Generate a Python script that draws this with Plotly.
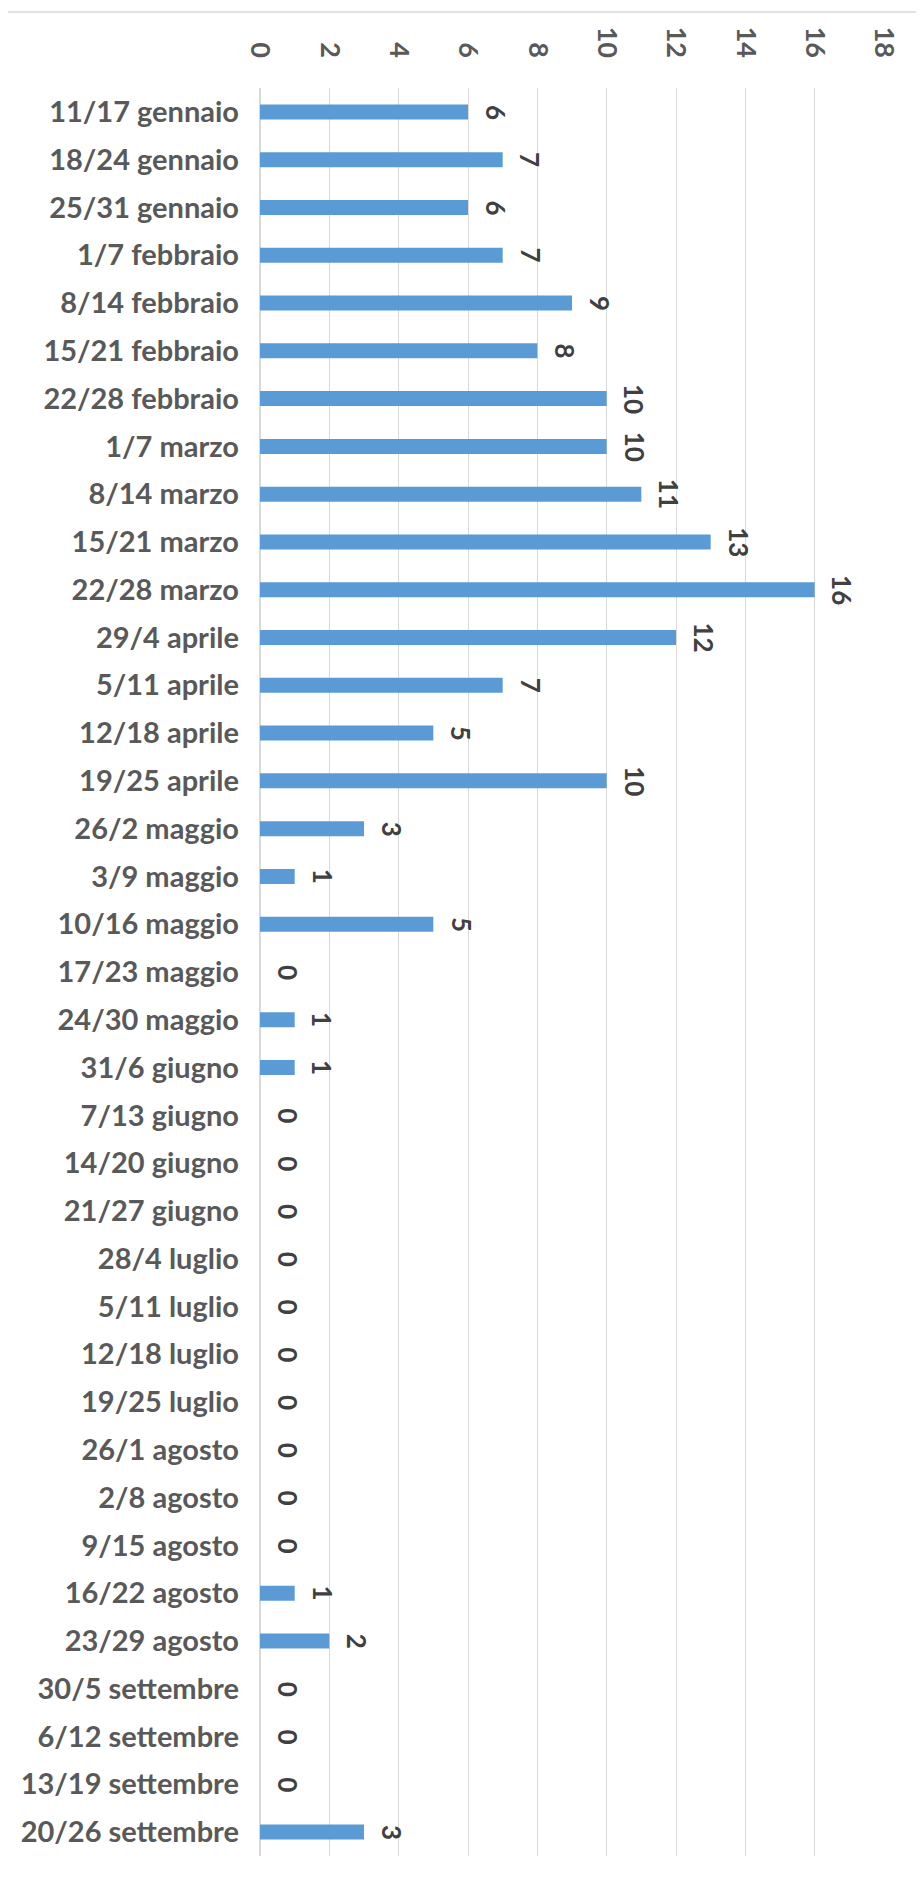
import plotly.graph_objects as go

categories = [
    "11/17 gennaio", "18/24 gennaio", "25/31 gennaio", "1/7 febbraio", "8/14 febbraio",
    "15/21 febbraio", "22/28 febbraio", "1/7 marzo", "8/14 marzo", "15/21 marzo",
    "22/28 marzo", "29/4 aprile", "5/11 aprile", "12/18 aprile", "19/25 aprile",
    "26/2 maggio", "3/9 maggio", "10/16 maggio", "17/23 maggio", "24/30 maggio",
    "31/6 giugno", "7/13 giugno", "14/20 giugno", "21/27 giugno", "28/4 luglio",
    "5/11 luglio", "12/18 luglio", "19/25 luglio", "26/1 agosto", "2/8 agosto",
    "9/15 agosto", "16/22 agosto", "23/29 agosto", "30/5 settembre", "6/12 settembre",
    "13/19 settembre", "20/26 settembre",
]
values = [6, 7, 6, 7, 9, 8, 10, 10, 11, 13, 16, 12, 7, 5, 10, 3, 1, 5, 0, 1,
          1, 0, 0, 0, 0, 0, 0, 0, 0, 0, 0, 1, 2, 0, 0, 0, 3]
x_ticks = [0, 2, 4, 6, 8, 10, 12, 14, 16, 18]

FONT = "Lato"
fig = go.Figure()
fig.add_trace(go.Bar(
    x=values, y=categories, orientation="h",
    marker=dict(color="#5b9bd5", line=dict(width=0)),
    hoverinfo="x+y",
))

for c, v in zip(categories, values):
    fig.add_annotation(
        x=v, y=c, xref="x", yref="y", text=str(v), showarrow=False,
        textangle=90, xanchor="center", yanchor="middle", xshift=28,
        font=dict(family=FONT, size=26, color="#404040", weight="bold"),
    )

# chart border (top and right edges visible)
fig.add_shape(type="rect", xref="paper", yref="paper",
              x0=-1.0, x1=1.0545, y0=-0.2, y1=1.043,
              line=dict(color="#d9d9d9", width=1.5), layer="below")

fig.update_layout(
    width=916, height=1875,
    margin=dict(l=252, r=40, t=80, b=27),
    paper_bgcolor="white", plot_bgcolor="white",
    bargap=0.686, showlegend=False,
    xaxis=dict(
        side="top", range=[0, 18], tickvals=x_ticks, ticktext=[str(t) for t in x_ticks],
        tickangle=90, showgrid=True, gridcolor="#d9d9d9", gridwidth=1.3,
        zeroline=True, zerolinecolor="#d9d9d9", zerolinewidth=1.5,
        showline=False, ticks="", ticklabelstandoff=25,
        tickfont=dict(family=FONT, size=27, color="#595959", weight="bold"),
        fixedrange=True, automargin=False,
    ),
    yaxis=dict(
        autorange="reversed", showgrid=False, zeroline=False, showline=False,
        ticks="", ticklabelstandoff=20,
        tickfont=dict(family=FONT, size=29, color="#595959", weight="bold"),
        fixedrange=True, automargin=False,
    ),
)

fig.write_html("out.html")
